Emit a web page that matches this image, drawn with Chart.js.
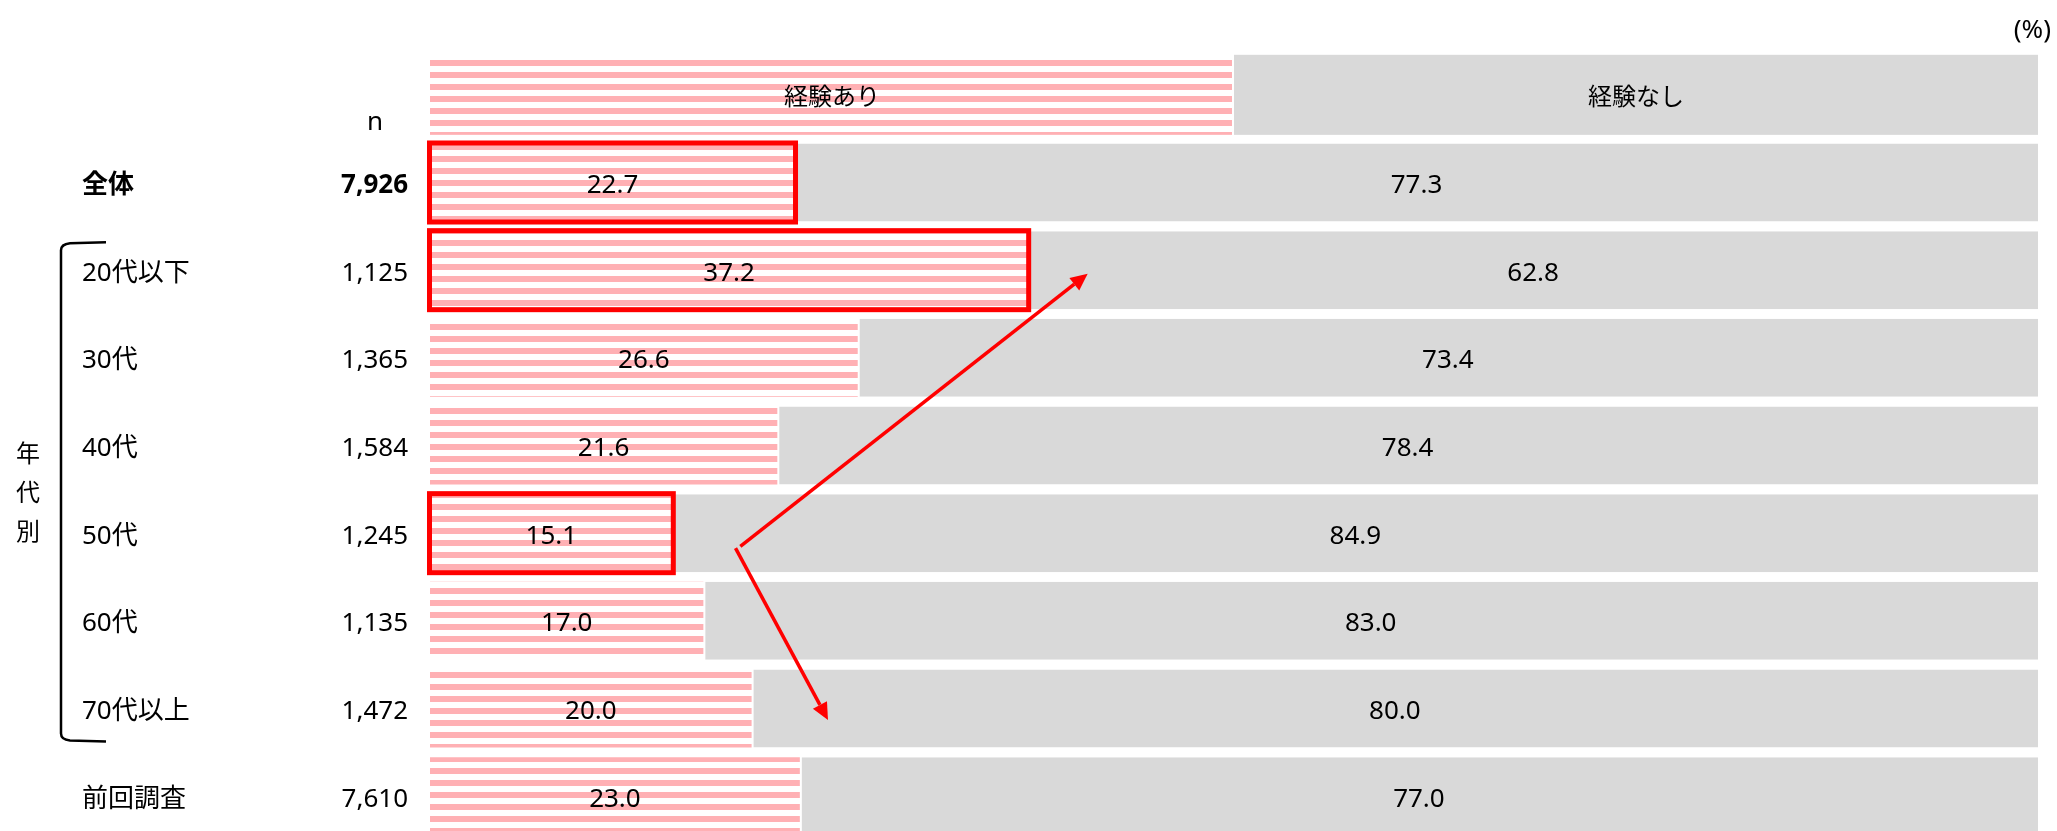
<!DOCTYPE html>
<html lang="ja">
<head>
<meta charset="utf-8">
<script src="https://cdn.jsdelivr.net/npm/chart.js@4.4.1/dist/chart.umd.min.js"></script>
<style>
  html, body { margin: 0; padding: 0; background: #fff; overflow: hidden; width: 2057px; height: 831px; }
  #wrap { position: relative; width: 2057px; height: 843px; }
</style>
</head>
<body>
<div id="wrap"><canvas id="c"></canvas></div>
<script>
// ---- data ----
const categories = ['全体', '20代以下', '30代', '40代', '50代', '60代', '70代以上', '前回調査'];
const sampleSizes = ['7,926', '1,125', '1,365', '1,584', '1,245', '1,135', '1,472', '7,610'];
const experiencedYes = [22.7, 37.2, 26.6, 21.6, 15.1, 17.0, 20.0, 23.0];
const experiencedNo = [77.3, 62.8, 73.4, 78.4, 84.9, 83.0, 80.0, 77.0];
const seriesNames = ['経験あり', '経験なし'];
const boldRows = ['全体'];
const boxedRows = ['全体', '20代以下', '50代'];
const groupRows = ['20代以下', '70代以上'];   // bracket "年代別" spans these
const groupLabel = '年代別';
const unitLabel = '(%)';
const nHeader = 'n';

// ---- styles ----
const PINK = '#FFB0B4';
const GRAY = '#D9D9D9';
const RED = '#FF0000';
const FONT = '"Noto Sans", "Noto Sans CJK JP", sans-serif';
const TEXT_DY = 3;

function stripePattern() {
  const p = document.createElement('canvas');
  p.width = 12; p.height = 12;
  const g = p.getContext('2d');
  g.fillStyle = '#fff'; g.fillRect(0, 0, 12, 12);
  g.fillStyle = PINK; g.fillRect(0, 0, 12, 6);
  return document.getElementById('c').getContext('2d').createPattern(p, 'repeat');
}
const stripes = stripePattern();

const labels = [''].concat(categories);          // row 0 = header (legend) row
const yesData = [null].concat(experiencedYes);
const noData = [null].concat(experiencedNo);

const decorPlugin = {
  id: 'decor',
  beforeDatasetsDraw(chart) {
    const ctx = chart.ctx;
    const xs = chart.scales.x, ys = chart.scales.y;
    const ref = chart.getDatasetMeta(0).data[1];
    const h = ref.height;
    const yc = ys.getPixelForValue(0);
    const x0 = xs.getPixelForValue(0), x50 = xs.getPixelForValue(50), x100 = xs.getPixelForValue(100);
    ctx.save();
    ctx.fillStyle = stripes;
    ctx.fillRect(x0, yc - h / 2 - 1, x50 - x0 - 2, h + 2);
    ctx.fillStyle = GRAY;
    ctx.fillRect(x50, yc - h / 2 - 1, x100 - x50, h + 2);
    ctx.fillStyle = '#000';
    ctx.font = '24px ' + FONT;
    ctx.textAlign = 'center';
    ctx.textBaseline = 'middle';
    ctx.fillText(seriesNames[0], (x0 + x50) / 2, yc + TEXT_DY);
    ctx.fillText(seriesNames[1], (x50 + x100) / 2, yc + TEXT_DY);
    ctx.restore();
  },
  afterDatasetsDraw(chart) {
    const ctx = chart.ctx;
    const ys = chart.scales.y, xs = chart.scales.x;
    ctx.save();
    // red highlight boxes
    const m0 = chart.getDatasetMeta(0);
    ctx.strokeStyle = RED;
    ctx.lineWidth = 5;
    boxedRows.forEach(name => {
      const el = m0.data[labels.indexOf(name)];
      ctx.strokeRect(el.base - 0.5, el.y - el.height / 2 - 0.5, el.x - el.base + 1, el.height + 1);
    });
    // value labels
    ctx.fillStyle = '#000';
    ctx.font = '26px ' + FONT;
    ctx.textAlign = 'center';
    ctx.textBaseline = 'middle';
    chart.data.datasets.forEach((ds, di) => {
      const meta = chart.getDatasetMeta(di);
      meta.data.forEach((el, i) => {
        const v = ds.data[i];
        if (v == null) return;
        ctx.fillText(v.toFixed(1), (el.x + el.base) / 2, el.y + TEXT_DY);
      });
    });
    // row labels and n
    categories.forEach((name, k) => {
      const y = ys.getPixelForValue(k + 1) + TEXT_DY;
      const bold = boldRows.includes(name);
      ctx.font = (bold ? 'bold ' : '') + '26px ' + FONT;
      ctx.textAlign = 'left';
      ctx.fillText(name, 82, y);
      ctx.textAlign = 'right';
      ctx.fillText(sampleSizes[k], 408, y);
    });
    // n header
    const yh = ys.getPixelForValue(0);
    ctx.font = '26px ' + FONT;
    ctx.textAlign = 'center';
    ctx.fillText(nHeader, 375, yh + 28);
    // unit
    ctx.textAlign = 'right';
    ctx.fillText(unitLabel, 2051, 31);
    // bracket
    const yTop = ys.getPixelForValue(labels.indexOf(groupRows[0])) - 28;
    const yBot = ys.getPixelForValue(labels.indexOf(groupRows[1])) + 33;
    ctx.strokeStyle = '#000';
    ctx.lineWidth = 2.5;
    ctx.beginPath();
    ctx.moveTo(106, yTop);
    ctx.lineTo(70, yTop + 1);
    ctx.quadraticCurveTo(61, yTop + 2, 61, yTop + 8);
    ctx.lineTo(61, yBot - 8);
    ctx.quadraticCurveTo(61, yBot - 2, 70, yBot - 1);
    ctx.lineTo(106, yBot);
    ctx.stroke();
    // vertical group label
    ctx.font = '24px ' + FONT;
    ctx.textAlign = 'center';
    const yMid = (ys.getPixelForValue(labels.indexOf('40代')) + ys.getPixelForValue(labels.indexOf('50代'))) / 2 + 5;
    [...groupLabel].forEach((ch, i) => ctx.fillText(ch, 28, yMid + (i - 1) * 39));
    ctx.restore();
  },
  afterDraw(chart) {
    const ctx = chart.ctx;
    const xs = chart.scales.x, ys = chart.scales.y;
    const band = ys.getPixelForValue(1) - ys.getPixelForValue(0);
    const P = (xv, row, dy) => [xs.getPixelForValue(xv), ys.getPixelForValue(labels.indexOf(row)) + dy * band];
    const start = P(19.3, '50代', 0.15);
    const start2 = P(19.0, '50代', 0.17);
    const upEnd = P(40.9, '20代以下', 0.04);
    const downEnd = P(24.75, '70代以上', 0.13);
    ctx.save();
    ctx.strokeStyle = RED; ctx.fillStyle = RED; ctx.lineWidth = 3.5;
    const arrow = (a, b) => {
      const ang = Math.atan2(b[1] - a[1], b[0] - a[0]);
      const L = 17, W = 8;
      const bx = b[0] - L * Math.cos(ang), by = b[1] - L * Math.sin(ang);
      ctx.beginPath(); ctx.moveTo(a[0], a[1]); ctx.lineTo(bx, by); ctx.stroke();
      ctx.beginPath();
      ctx.moveTo(b[0], b[1]);
      ctx.lineTo(bx + W * Math.sin(ang), by - W * Math.cos(ang));
      ctx.lineTo(bx - W * Math.sin(ang), by + W * Math.cos(ang));
      ctx.closePath(); ctx.fill();
    };
    arrow(start, upEnd);
    arrow(start2, downEnd);
    ctx.restore();
  }
};

new Chart(document.getElementById('c'), {
  type: 'bar',
  data: {
    labels: labels,
    datasets: [
      { label: seriesNames[0], data: yesData, backgroundColor: stripes, borderWidth: 0 },
      { label: seriesNames[1], data: noData, backgroundColor: GRAY, borderColor: '#fff',
        borderWidth: { left: 2, top: 0, right: 0, bottom: 0 }, borderSkipped: false }
    ]
  },
  options: {
    indexAxis: 'y',
    responsive: true,
    maintainAspectRatio: false,
    animation: false,
    devicePixelRatio: 1,
    layout: { padding: { left: 430, right: 19, top: 51, bottom: 3 } },
    datasets: { bar: { categoryPercentage: 1, barPercentage: 0.89 } },
    scales: {
      x: { stacked: true, min: 0, max: 100, display: false },
      y: { stacked: true, display: false }
    },
    plugins: { legend: { display: false }, tooltip: { enabled: false } }
  },
  plugins: [decorPlugin]
});
</script>
</body>
</html>
